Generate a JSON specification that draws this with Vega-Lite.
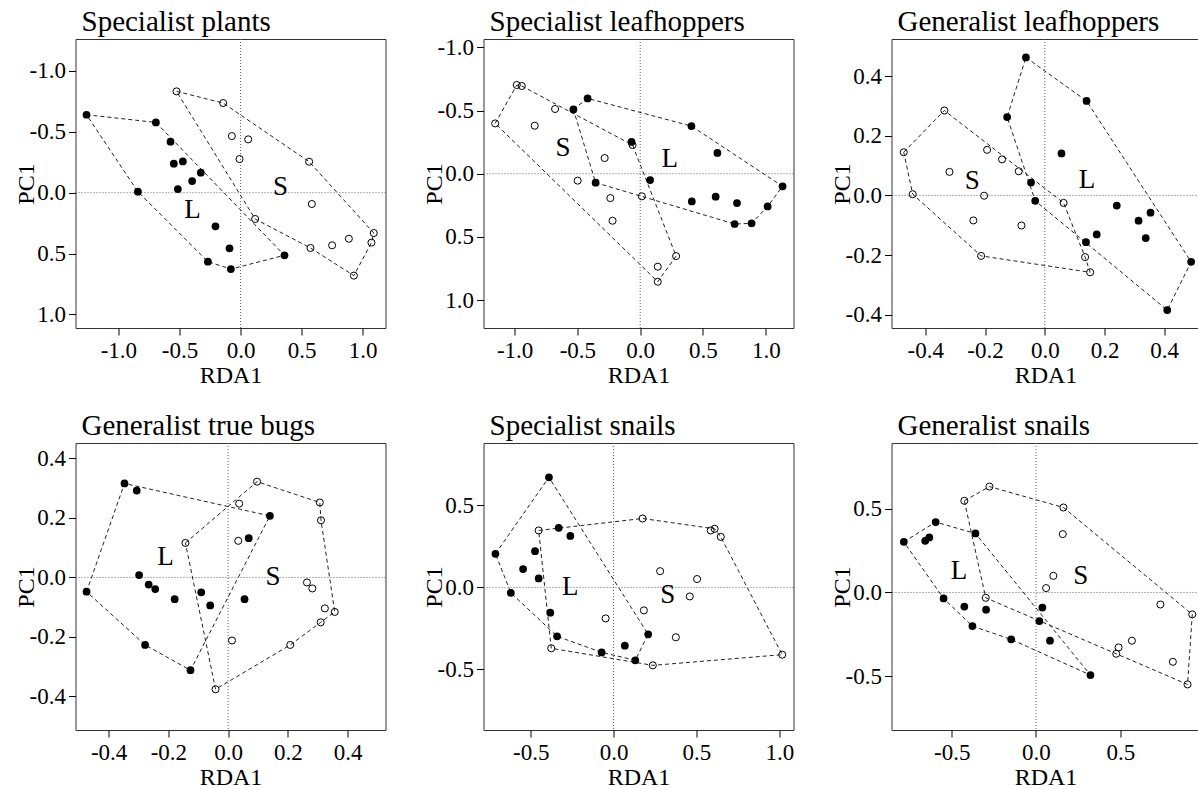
{
  "$schema": "https://vega.github.io/schema/vega-lite/v6.json",
  "padding": {"left": 13.5, "top": 7, "right": 0, "bottom": 0},
  "background": "white",
  "bounds": "flush",
  "columns": 3,
  "spacing": {"row": 115, "column": 98},
  "datasets": {
    "pts": [
      {"panel": 1, "site": "L", "RDA1": -1.261, "PC1": -0.640},
      {"panel": 1, "site": "L", "RDA1": -0.693, "PC1": -0.577},
      {"panel": 1, "site": "L", "RDA1": -0.573, "PC1": -0.419},
      {"panel": 1, "site": "L", "RDA1": -0.546, "PC1": -0.238},
      {"panel": 1, "site": "L", "RDA1": -0.472, "PC1": -0.257},
      {"panel": 1, "site": "L", "RDA1": -0.325, "PC1": -0.164},
      {"panel": 1, "site": "L", "RDA1": -0.396, "PC1": -0.096},
      {"panel": 1, "site": "L", "RDA1": -0.513, "PC1": -0.030},
      {"panel": 1, "site": "L", "RDA1": -0.840, "PC1": -0.008},
      {"panel": 1, "site": "L", "RDA1": -0.205, "PC1": 0.276},
      {"panel": 1, "site": "L", "RDA1": -0.090, "PC1": 0.457},
      {"panel": 1, "site": "L", "RDA1": -0.267, "PC1": 0.566},
      {"panel": 1, "site": "L", "RDA1": -0.079, "PC1": 0.627},
      {"panel": 1, "site": "L", "RDA1": 0.360, "PC1": 0.514},
      {"panel": 1, "site": "S", "RDA1": -0.524, "PC1": -0.832},
      {"panel": 1, "site": "S", "RDA1": -0.142, "PC1": -0.736},
      {"panel": 1, "site": "S", "RDA1": -0.071, "PC1": -0.465},
      {"panel": 1, "site": "S", "RDA1": 0.063, "PC1": -0.438},
      {"panel": 1, "site": "S", "RDA1": -0.008, "PC1": -0.276},
      {"panel": 1, "site": "S", "RDA1": 0.562, "PC1": -0.254},
      {"panel": 1, "site": "S", "RDA1": 0.584, "PC1": 0.093},
      {"panel": 1, "site": "S", "RDA1": 0.120, "PC1": 0.216},
      {"panel": 1, "site": "S", "RDA1": 0.573, "PC1": 0.454},
      {"panel": 1, "site": "S", "RDA1": 0.750, "PC1": 0.432},
      {"panel": 1, "site": "S", "RDA1": 0.887, "PC1": 0.378},
      {"panel": 1, "site": "S", "RDA1": 1.091, "PC1": 0.331},
      {"panel": 1, "site": "S", "RDA1": 1.072, "PC1": 0.410},
      {"panel": 1, "site": "S", "RDA1": 0.928, "PC1": 0.681},

      {"panel": 2, "site": "L", "RDA1": -0.419, "PC1": -0.596},
      {"panel": 2, "site": "L", "RDA1": -0.532, "PC1": -0.509},
      {"panel": 2, "site": "L", "RDA1": 0.408, "PC1": -0.377},
      {"panel": 2, "site": "L", "RDA1": 0.615, "PC1": -0.164},
      {"panel": 2, "site": "L", "RDA1": -0.069, "PC1": -0.251},
      {"panel": 2, "site": "L", "RDA1": 0.079, "PC1": 0.050},
      {"panel": 2, "site": "L", "RDA1": -0.355, "PC1": 0.071},
      {"panel": 2, "site": "L", "RDA1": 0.411, "PC1": 0.219},
      {"panel": 2, "site": "L", "RDA1": 0.601, "PC1": 0.182},
      {"panel": 2, "site": "L", "RDA1": 0.771, "PC1": 0.232},
      {"panel": 2, "site": "L", "RDA1": 1.134, "PC1": 0.100},
      {"panel": 2, "site": "L", "RDA1": 1.015, "PC1": 0.259},
      {"panel": 2, "site": "L", "RDA1": 0.887, "PC1": 0.393},
      {"panel": 2, "site": "L", "RDA1": 0.752, "PC1": 0.398},
      {"panel": 2, "site": "S", "RDA1": -0.983, "PC1": -0.702},
      {"panel": 2, "site": "S", "RDA1": -0.943, "PC1": -0.694},
      {"panel": 2, "site": "S", "RDA1": -0.678, "PC1": -0.512},
      {"panel": 2, "site": "S", "RDA1": -1.155, "PC1": -0.398},
      {"panel": 2, "site": "S", "RDA1": -0.840, "PC1": -0.380},
      {"panel": 2, "site": "S", "RDA1": -0.061, "PC1": -0.227},
      {"panel": 2, "site": "S", "RDA1": -0.283, "PC1": -0.124},
      {"panel": 2, "site": "S", "RDA1": -0.498, "PC1": 0.055},
      {"panel": 2, "site": "S", "RDA1": 0.013, "PC1": 0.179},
      {"panel": 2, "site": "S", "RDA1": -0.238, "PC1": 0.193},
      {"panel": 2, "site": "S", "RDA1": -0.220, "PC1": 0.372},
      {"panel": 2, "site": "S", "RDA1": 0.286, "PC1": 0.652},
      {"panel": 2, "site": "S", "RDA1": 0.140, "PC1": 0.736},
      {"panel": 2, "site": "S", "RDA1": 0.140, "PC1": 0.855},

      {"panel": 3, "site": "L", "RDA1": -0.063, "PC1": 0.463},
      {"panel": 3, "site": "L", "RDA1": 0.140, "PC1": 0.317},
      {"panel": 3, "site": "L", "RDA1": -0.126, "PC1": 0.263},
      {"panel": 3, "site": "L", "RDA1": 0.056, "PC1": 0.141},
      {"panel": 3, "site": "L", "RDA1": -0.046, "PC1": 0.043},
      {"panel": 3, "site": "L", "RDA1": -0.032, "PC1": -0.018},
      {"panel": 3, "site": "L", "RDA1": 0.241, "PC1": -0.034},
      {"panel": 3, "site": "L", "RDA1": 0.354, "PC1": -0.058},
      {"panel": 3, "site": "L", "RDA1": 0.314, "PC1": -0.085},
      {"panel": 3, "site": "L", "RDA1": 0.174, "PC1": -0.131},
      {"panel": 3, "site": "L", "RDA1": 0.138, "PC1": -0.157},
      {"panel": 3, "site": "L", "RDA1": 0.338, "PC1": -0.143},
      {"panel": 3, "site": "L", "RDA1": 0.490, "PC1": -0.223},
      {"panel": 3, "site": "L", "RDA1": 0.410, "PC1": -0.385},
      {"panel": 3, "site": "S", "RDA1": -0.336, "PC1": 0.285},
      {"panel": 3, "site": "S", "RDA1": -0.472, "PC1": 0.145},
      {"panel": 3, "site": "S", "RDA1": -0.193, "PC1": 0.153},
      {"panel": 3, "site": "S", "RDA1": -0.143, "PC1": 0.121},
      {"panel": 3, "site": "S", "RDA1": -0.319, "PC1": 0.079},
      {"panel": 3, "site": "S", "RDA1": -0.087, "PC1": 0.081},
      {"panel": 3, "site": "S", "RDA1": -0.442, "PC1": 0.004},
      {"panel": 3, "site": "S", "RDA1": -0.203, "PC1": -0.001},
      {"panel": 3, "site": "S", "RDA1": 0.063, "PC1": -0.025},
      {"panel": 3, "site": "S", "RDA1": -0.239, "PC1": -0.084},
      {"panel": 3, "site": "S", "RDA1": -0.078, "PC1": -0.101},
      {"panel": 3, "site": "S", "RDA1": -0.213, "PC1": -0.203},
      {"panel": 3, "site": "S", "RDA1": 0.135, "PC1": -0.207},
      {"panel": 3, "site": "S", "RDA1": 0.152, "PC1": -0.258},

      {"panel": 4, "site": "L", "RDA1": -0.347, "PC1": 0.316},
      {"panel": 4, "site": "L", "RDA1": -0.306, "PC1": 0.292},
      {"panel": 4, "site": "L", "RDA1": 0.140, "PC1": 0.207},
      {"panel": 4, "site": "L", "RDA1": 0.069, "PC1": 0.132},
      {"panel": 4, "site": "L", "RDA1": -0.298, "PC1": 0.008},
      {"panel": 4, "site": "L", "RDA1": -0.266, "PC1": -0.024},
      {"panel": 4, "site": "L", "RDA1": -0.244, "PC1": -0.039},
      {"panel": 4, "site": "L", "RDA1": -0.179, "PC1": -0.073},
      {"panel": 4, "site": "L", "RDA1": -0.090, "PC1": -0.050},
      {"panel": 4, "site": "L", "RDA1": -0.060, "PC1": -0.094},
      {"panel": 4, "site": "L", "RDA1": 0.055, "PC1": -0.073},
      {"panel": 4, "site": "L", "RDA1": -0.474, "PC1": -0.048},
      {"panel": 4, "site": "L", "RDA1": -0.278, "PC1": -0.227},
      {"panel": 4, "site": "L", "RDA1": -0.126, "PC1": -0.312},
      {"panel": 4, "site": "S", "RDA1": 0.097, "PC1": 0.322},
      {"panel": 4, "site": "S", "RDA1": 0.037, "PC1": 0.248},
      {"panel": 4, "site": "S", "RDA1": 0.307, "PC1": 0.252},
      {"panel": 4, "site": "S", "RDA1": 0.311, "PC1": 0.192},
      {"panel": 4, "site": "S", "RDA1": -0.143, "PC1": 0.116},
      {"panel": 4, "site": "S", "RDA1": 0.034, "PC1": 0.123},
      {"panel": 4, "site": "S", "RDA1": 0.264, "PC1": -0.017},
      {"panel": 4, "site": "S", "RDA1": 0.282, "PC1": -0.037},
      {"panel": 4, "site": "S", "RDA1": 0.324, "PC1": -0.104},
      {"panel": 4, "site": "S", "RDA1": 0.357, "PC1": -0.116},
      {"panel": 4, "site": "S", "RDA1": 0.310, "PC1": -0.151},
      {"panel": 4, "site": "S", "RDA1": 0.208, "PC1": -0.227},
      {"panel": 4, "site": "S", "RDA1": 0.013, "PC1": -0.212},
      {"panel": 4, "site": "S", "RDA1": -0.042, "PC1": -0.376},

      {"panel": 5, "site": "L", "RDA1": -0.390, "PC1": 0.671},
      {"panel": 5, "site": "L", "RDA1": -0.331, "PC1": 0.363},
      {"panel": 5, "site": "L", "RDA1": -0.261, "PC1": 0.314},
      {"panel": 5, "site": "L", "RDA1": -0.713, "PC1": 0.205},
      {"panel": 5, "site": "L", "RDA1": -0.474, "PC1": 0.221},
      {"panel": 5, "site": "L", "RDA1": -0.546, "PC1": 0.112},
      {"panel": 5, "site": "L", "RDA1": -0.452, "PC1": 0.055},
      {"panel": 5, "site": "L", "RDA1": -0.620, "PC1": -0.033},
      {"panel": 5, "site": "L", "RDA1": -0.382, "PC1": -0.154},
      {"panel": 5, "site": "L", "RDA1": -0.341, "PC1": -0.298},
      {"panel": 5, "site": "L", "RDA1": -0.072, "PC1": -0.396},
      {"panel": 5, "site": "L", "RDA1": 0.068, "PC1": -0.355},
      {"panel": 5, "site": "L", "RDA1": 0.209, "PC1": -0.286},
      {"panel": 5, "site": "L", "RDA1": 0.131, "PC1": -0.444},
      {"panel": 5, "site": "S", "RDA1": -0.452, "PC1": 0.347},
      {"panel": 5, "site": "S", "RDA1": 0.175, "PC1": 0.420},
      {"panel": 5, "site": "S", "RDA1": 0.586, "PC1": 0.347},
      {"panel": 5, "site": "S", "RDA1": 0.610, "PC1": 0.357},
      {"panel": 5, "site": "S", "RDA1": 0.647, "PC1": 0.308},
      {"panel": 5, "site": "S", "RDA1": 0.281, "PC1": 0.099},
      {"panel": 5, "site": "S", "RDA1": 0.504, "PC1": 0.051},
      {"panel": 5, "site": "S", "RDA1": 0.460, "PC1": -0.055},
      {"panel": 5, "site": "S", "RDA1": 0.183, "PC1": -0.140},
      {"panel": 5, "site": "S", "RDA1": -0.048, "PC1": -0.189},
      {"panel": 5, "site": "S", "RDA1": 0.376, "PC1": -0.304},
      {"panel": 5, "site": "S", "RDA1": -0.376, "PC1": -0.371},
      {"panel": 5, "site": "S", "RDA1": 0.237, "PC1": -0.475},
      {"panel": 5, "site": "S", "RDA1": 1.018, "PC1": -0.410},

      {"panel": 6, "site": "L", "RDA1": -0.784, "PC1": 0.302},
      {"panel": 6, "site": "L", "RDA1": -0.657, "PC1": 0.308},
      {"panel": 6, "site": "L", "RDA1": -0.633, "PC1": 0.328},
      {"panel": 6, "site": "L", "RDA1": -0.595, "PC1": 0.420},
      {"panel": 6, "site": "L", "RDA1": -0.359, "PC1": 0.352},
      {"panel": 6, "site": "L", "RDA1": -0.548, "PC1": -0.036},
      {"panel": 6, "site": "L", "RDA1": -0.425, "PC1": -0.084},
      {"panel": 6, "site": "L", "RDA1": -0.296, "PC1": -0.103},
      {"panel": 6, "site": "L", "RDA1": 0.038, "PC1": -0.090},
      {"panel": 6, "site": "L", "RDA1": 0.020, "PC1": -0.171},
      {"panel": 6, "site": "L", "RDA1": -0.377, "PC1": -0.201},
      {"panel": 6, "site": "L", "RDA1": -0.147, "PC1": -0.280},
      {"panel": 6, "site": "L", "RDA1": 0.083, "PC1": -0.288},
      {"panel": 6, "site": "L", "RDA1": 0.323, "PC1": -0.493},
      {"panel": 6, "site": "S", "RDA1": -0.276, "PC1": 0.632},
      {"panel": 6, "site": "S", "RDA1": -0.425, "PC1": 0.547},
      {"panel": 6, "site": "S", "RDA1": 0.163, "PC1": 0.507},
      {"panel": 6, "site": "S", "RDA1": 0.159, "PC1": 0.348},
      {"panel": 6, "site": "S", "RDA1": 0.103, "PC1": 0.099},
      {"panel": 6, "site": "S", "RDA1": 0.060, "PC1": 0.026},
      {"panel": 6, "site": "S", "RDA1": -0.298, "PC1": -0.032},
      {"panel": 6, "site": "S", "RDA1": 0.738, "PC1": -0.072},
      {"panel": 6, "site": "S", "RDA1": 0.927, "PC1": -0.131},
      {"panel": 6, "site": "S", "RDA1": 0.569, "PC1": -0.288},
      {"panel": 6, "site": "S", "RDA1": 0.490, "PC1": -0.328},
      {"panel": 6, "site": "S", "RDA1": 0.476, "PC1": -0.366},
      {"panel": 6, "site": "S", "RDA1": 0.812, "PC1": -0.414},
      {"panel": 6, "site": "S", "RDA1": 0.899, "PC1": -0.549}
    ],
    "hull": [
      {"panel": 1, "site": "L", "vertex": 1, "RDA1": -1.261, "PC1": -0.640},
      {"panel": 1, "site": "L", "vertex": 2, "RDA1": -0.693, "PC1": -0.577},
      {"panel": 1, "site": "L", "vertex": 3, "RDA1": 0.360, "PC1": 0.514},
      {"panel": 1, "site": "L", "vertex": 4, "RDA1": -0.079, "PC1": 0.627},
      {"panel": 1, "site": "L", "vertex": 5, "RDA1": -0.267, "PC1": 0.566},
      {"panel": 1, "site": "L", "vertex": 6, "RDA1": -0.840, "PC1": -0.008},
      {"panel": 1, "site": "L", "vertex": 7, "RDA1": -1.261, "PC1": -0.640},
      {"panel": 1, "site": "S", "vertex": 1, "RDA1": -0.524, "PC1": -0.832},
      {"panel": 1, "site": "S", "vertex": 2, "RDA1": -0.142, "PC1": -0.736},
      {"panel": 1, "site": "S", "vertex": 3, "RDA1": 0.562, "PC1": -0.254},
      {"panel": 1, "site": "S", "vertex": 4, "RDA1": 1.091, "PC1": 0.331},
      {"panel": 1, "site": "S", "vertex": 5, "RDA1": 1.072, "PC1": 0.410},
      {"panel": 1, "site": "S", "vertex": 6, "RDA1": 0.928, "PC1": 0.681},
      {"panel": 1, "site": "S", "vertex": 7, "RDA1": 0.573, "PC1": 0.454},
      {"panel": 1, "site": "S", "vertex": 8, "RDA1": 0.120, "PC1": 0.216},
      {"panel": 1, "site": "S", "vertex": 9, "RDA1": -0.524, "PC1": -0.832},

      {"panel": 2, "site": "L", "vertex": 1, "RDA1": -0.532, "PC1": -0.509},
      {"panel": 2, "site": "L", "vertex": 2, "RDA1": -0.419, "PC1": -0.596},
      {"panel": 2, "site": "L", "vertex": 3, "RDA1": 0.408, "PC1": -0.377},
      {"panel": 2, "site": "L", "vertex": 4, "RDA1": 1.134, "PC1": 0.100},
      {"panel": 2, "site": "L", "vertex": 5, "RDA1": 1.015, "PC1": 0.259},
      {"panel": 2, "site": "L", "vertex": 6, "RDA1": 0.887, "PC1": 0.393},
      {"panel": 2, "site": "L", "vertex": 7, "RDA1": 0.752, "PC1": 0.398},
      {"panel": 2, "site": "L", "vertex": 8, "RDA1": -0.355, "PC1": 0.071},
      {"panel": 2, "site": "L", "vertex": 9, "RDA1": -0.532, "PC1": -0.509},
      {"panel": 2, "site": "S", "vertex": 1, "RDA1": -1.155, "PC1": -0.398},
      {"panel": 2, "site": "S", "vertex": 2, "RDA1": -0.983, "PC1": -0.702},
      {"panel": 2, "site": "S", "vertex": 3, "RDA1": -0.943, "PC1": -0.694},
      {"panel": 2, "site": "S", "vertex": 4, "RDA1": -0.061, "PC1": -0.227},
      {"panel": 2, "site": "S", "vertex": 5, "RDA1": 0.286, "PC1": 0.652},
      {"panel": 2, "site": "S", "vertex": 6, "RDA1": 0.140, "PC1": 0.855},
      {"panel": 2, "site": "S", "vertex": 7, "RDA1": -1.155, "PC1": -0.398},

      {"panel": 3, "site": "L", "vertex": 1, "RDA1": -0.063, "PC1": 0.463},
      {"panel": 3, "site": "L", "vertex": 2, "RDA1": 0.140, "PC1": 0.317},
      {"panel": 3, "site": "L", "vertex": 3, "RDA1": 0.490, "PC1": -0.223},
      {"panel": 3, "site": "L", "vertex": 4, "RDA1": 0.410, "PC1": -0.385},
      {"panel": 3, "site": "L", "vertex": 5, "RDA1": -0.032, "PC1": -0.018},
      {"panel": 3, "site": "L", "vertex": 6, "RDA1": -0.126, "PC1": 0.263},
      {"panel": 3, "site": "L", "vertex": 7, "RDA1": -0.063, "PC1": 0.463},
      {"panel": 3, "site": "S", "vertex": 1, "RDA1": -0.472, "PC1": 0.145},
      {"panel": 3, "site": "S", "vertex": 2, "RDA1": -0.336, "PC1": 0.285},
      {"panel": 3, "site": "S", "vertex": 3, "RDA1": 0.063, "PC1": -0.025},
      {"panel": 3, "site": "S", "vertex": 4, "RDA1": 0.135, "PC1": -0.207},
      {"panel": 3, "site": "S", "vertex": 5, "RDA1": 0.152, "PC1": -0.258},
      {"panel": 3, "site": "S", "vertex": 6, "RDA1": -0.213, "PC1": -0.203},
      {"panel": 3, "site": "S", "vertex": 7, "RDA1": -0.442, "PC1": 0.004},
      {"panel": 3, "site": "S", "vertex": 8, "RDA1": -0.472, "PC1": 0.145},

      {"panel": 4, "site": "L", "vertex": 1, "RDA1": -0.474, "PC1": -0.048},
      {"panel": 4, "site": "L", "vertex": 2, "RDA1": -0.347, "PC1": 0.316},
      {"panel": 4, "site": "L", "vertex": 3, "RDA1": 0.140, "PC1": 0.207},
      {"panel": 4, "site": "L", "vertex": 4, "RDA1": -0.126, "PC1": -0.312},
      {"panel": 4, "site": "L", "vertex": 5, "RDA1": -0.278, "PC1": -0.227},
      {"panel": 4, "site": "L", "vertex": 6, "RDA1": -0.474, "PC1": -0.048},
      {"panel": 4, "site": "S", "vertex": 1, "RDA1": -0.143, "PC1": 0.116},
      {"panel": 4, "site": "S", "vertex": 2, "RDA1": 0.097, "PC1": 0.322},
      {"panel": 4, "site": "S", "vertex": 3, "RDA1": 0.307, "PC1": 0.252},
      {"panel": 4, "site": "S", "vertex": 4, "RDA1": 0.311, "PC1": 0.192},
      {"panel": 4, "site": "S", "vertex": 5, "RDA1": 0.357, "PC1": -0.116},
      {"panel": 4, "site": "S", "vertex": 6, "RDA1": 0.310, "PC1": -0.151},
      {"panel": 4, "site": "S", "vertex": 7, "RDA1": 0.208, "PC1": -0.227},
      {"panel": 4, "site": "S", "vertex": 8, "RDA1": -0.042, "PC1": -0.376},
      {"panel": 4, "site": "S", "vertex": 9, "RDA1": -0.143, "PC1": 0.116},

      {"panel": 5, "site": "L", "vertex": 1, "RDA1": -0.713, "PC1": 0.205},
      {"panel": 5, "site": "L", "vertex": 2, "RDA1": -0.390, "PC1": 0.671},
      {"panel": 5, "site": "L", "vertex": 3, "RDA1": 0.209, "PC1": -0.286},
      {"panel": 5, "site": "L", "vertex": 4, "RDA1": 0.131, "PC1": -0.444},
      {"panel": 5, "site": "L", "vertex": 5, "RDA1": -0.072, "PC1": -0.396},
      {"panel": 5, "site": "L", "vertex": 6, "RDA1": -0.341, "PC1": -0.298},
      {"panel": 5, "site": "L", "vertex": 7, "RDA1": -0.620, "PC1": -0.033},
      {"panel": 5, "site": "L", "vertex": 8, "RDA1": -0.713, "PC1": 0.205},
      {"panel": 5, "site": "S", "vertex": 1, "RDA1": -0.452, "PC1": 0.347},
      {"panel": 5, "site": "S", "vertex": 2, "RDA1": 0.175, "PC1": 0.420},
      {"panel": 5, "site": "S", "vertex": 3, "RDA1": 0.610, "PC1": 0.357},
      {"panel": 5, "site": "S", "vertex": 4, "RDA1": 0.647, "PC1": 0.308},
      {"panel": 5, "site": "S", "vertex": 5, "RDA1": 1.018, "PC1": -0.410},
      {"panel": 5, "site": "S", "vertex": 6, "RDA1": 0.237, "PC1": -0.475},
      {"panel": 5, "site": "S", "vertex": 7, "RDA1": -0.376, "PC1": -0.371},
      {"panel": 5, "site": "S", "vertex": 8, "RDA1": -0.452, "PC1": 0.347},

      {"panel": 6, "site": "L", "vertex": 1, "RDA1": -0.784, "PC1": 0.302},
      {"panel": 6, "site": "L", "vertex": 2, "RDA1": -0.595, "PC1": 0.420},
      {"panel": 6, "site": "L", "vertex": 3, "RDA1": -0.359, "PC1": 0.352},
      {"panel": 6, "site": "L", "vertex": 4, "RDA1": 0.323, "PC1": -0.493},
      {"panel": 6, "site": "L", "vertex": 5, "RDA1": -0.147, "PC1": -0.280},
      {"panel": 6, "site": "L", "vertex": 6, "RDA1": -0.377, "PC1": -0.201},
      {"panel": 6, "site": "L", "vertex": 7, "RDA1": -0.548, "PC1": -0.036},
      {"panel": 6, "site": "L", "vertex": 8, "RDA1": -0.784, "PC1": 0.302},
      {"panel": 6, "site": "S", "vertex": 1, "RDA1": -0.425, "PC1": 0.547},
      {"panel": 6, "site": "S", "vertex": 2, "RDA1": -0.276, "PC1": 0.632},
      {"panel": 6, "site": "S", "vertex": 3, "RDA1": 0.163, "PC1": 0.507},
      {"panel": 6, "site": "S", "vertex": 4, "RDA1": 0.927, "PC1": -0.131},
      {"panel": 6, "site": "S", "vertex": 5, "RDA1": 0.899, "PC1": -0.549},
      {"panel": 6, "site": "S", "vertex": 6, "RDA1": 0.476, "PC1": -0.366},
      {"panel": 6, "site": "S", "vertex": 7, "RDA1": -0.298, "PC1": -0.032},
      {"panel": 6, "site": "S", "vertex": 8, "RDA1": -0.425, "PC1": 0.547}
    ],
    "labels": [
      {"panel": 1, "site": "S", "RDA1": 0.327, "PC1": -0.047},
      {"panel": 1, "site": "L", "RDA1": -0.393, "PC1": 0.142},
      {"panel": 2, "site": "S", "RDA1": -0.615, "PC1": -0.203},
      {"panel": 2, "site": "L", "RDA1": 0.236, "PC1": -0.116},
      {"panel": 3, "site": "S", "RDA1": -0.243, "PC1": 0.049},
      {"panel": 3, "site": "L", "RDA1": 0.141, "PC1": 0.051},
      {"panel": 4, "site": "L", "RDA1": -0.210, "PC1": 0.069},
      {"panel": 4, "site": "S", "RDA1": 0.150, "PC1": 0.000},
      {"panel": 5, "site": "L", "RDA1": -0.261, "PC1": 0.000},
      {"panel": 5, "site": "S", "RDA1": 0.327, "PC1": -0.047},
      {"panel": 6, "site": "L", "RDA1": -0.456, "PC1": 0.129},
      {"panel": 6, "site": "S", "RDA1": 0.266, "PC1": 0.099}
    ],
    "origin": [{"zero": 0}]
  },
  "concat": [
    {
      "title": {"text": "Specialist plants", "offset": 2},
      "width": 310, "height": 289,
      "layer": [
        {"data": {"name": "origin"}, "mark": {"type": "rule", "color": "#666", "strokeDash": [1, 2], "strokeWidth": 1},
         "encoding": {"x": {"field": "zero", "type": "quantitative", "scale": {"domain": [-1.351, 1.187], "nice": false, "zero": false}, "axis": {"values": [-1, -0.5, 0, 0.5, 1], "format": ".1f", "title": "RDA1", "labelFont": "Liberation Serif", "titleFont": "Liberation Serif"}}}},
        {"data": {"name": "origin"}, "mark": {"type": "rule", "color": "#666", "strokeDash": [1, 2], "strokeWidth": 1},
         "encoding": {"y": {"field": "zero", "type": "quantitative", "scale": {"domain": [-1.262, 1.111], "nice": false, "zero": false, "reverse": true}, "axis": {"values": [-1, -0.5, 0, 0.5, 1], "format": ".1f", "title": "PC1", "labelFont": "Liberation Serif", "titleFont": "Liberation Serif"}}}},
        {"data": {"name": "hull"}, "transform": [{"filter": "datum.panel == 1"}], "mark": {"type": "line", "color": "#222", "strokeDash": [4, 3], "strokeWidth": 1},
         "encoding": {"x": {"field": "RDA1", "type": "quantitative"}, "y": {"field": "PC1", "type": "quantitative"}, "detail": {"field": "site"}, "order": {"field": "vertex"}}},
        {"data": {"name": "pts"}, "transform": [{"filter": "datum.panel == 1 && datum.site == 'L'"}], "mark": {"type": "circle", "size": 60, "color": "#000", "opacity": 1},
         "encoding": {"x": {"field": "RDA1", "type": "quantitative"}, "y": {"field": "PC1", "type": "quantitative"}}},
        {"data": {"name": "pts"}, "transform": [{"filter": "datum.panel == 1 && datum.site == 'S'"}], "mark": {"type": "point", "shape": "circle", "size": 50, "filled": false, "stroke": "#000", "strokeWidth": 1, "opacity": 1},
         "encoding": {"x": {"field": "RDA1", "type": "quantitative"}, "y": {"field": "PC1", "type": "quantitative"}}},
        {"data": {"name": "labels"}, "transform": [{"filter": "datum.panel == 1"}], "mark": {"type": "text", "font": "Liberation Serif", "fontSize": 27, "align": "center", "baseline": "middle", "color": "#000"},
         "encoding": {"x": {"field": "RDA1", "type": "quantitative"}, "y": {"field": "PC1", "type": "quantitative"}, "text": {"field": "site"}}}
      ]
    },
    {
      "title": {"text": "Specialist leafhoppers", "offset": -1},
      "width": 310, "height": 289,
      "layer": [
        {"data": {"name": "origin"}, "mark": {"type": "rule", "color": "#666", "strokeDash": [1, 2], "strokeWidth": 1},
         "encoding": {"x": {"field": "zero", "type": "quantitative", "scale": {"domain": [-1.248, 1.221], "nice": false, "zero": false}, "axis": {"values": [-1, -0.5, 0, 0.5, 1], "format": ".1f", "title": "RDA1", "labelFont": "Liberation Serif", "titleFont": "Liberation Serif"}}}},
        {"data": {"name": "origin"}, "mark": {"type": "rule", "color": "#666", "strokeDash": [1, 2], "strokeWidth": 1},
         "encoding": {"y": {"field": "zero", "type": "quantitative", "scale": {"domain": [-1.066, 1.221], "nice": false, "zero": false, "reverse": true}, "axis": {"values": [-1, -0.5, 0, 0.5, 1], "format": ".1f", "title": "PC1", "labelFont": "Liberation Serif", "titleFont": "Liberation Serif"}}}},
        {"data": {"name": "hull"}, "transform": [{"filter": "datum.panel == 2"}], "mark": {"type": "line", "color": "#222", "strokeDash": [4, 3], "strokeWidth": 1},
         "encoding": {"x": {"field": "RDA1", "type": "quantitative"}, "y": {"field": "PC1", "type": "quantitative"}, "detail": {"field": "site"}, "order": {"field": "vertex"}}},
        {"data": {"name": "pts"}, "transform": [{"filter": "datum.panel == 2 && datum.site == 'L'"}], "mark": {"type": "circle", "size": 60, "color": "#000", "opacity": 1},
         "encoding": {"x": {"field": "RDA1", "type": "quantitative"}, "y": {"field": "PC1", "type": "quantitative"}}},
        {"data": {"name": "pts"}, "transform": [{"filter": "datum.panel == 2 && datum.site == 'S'"}], "mark": {"type": "point", "shape": "circle", "size": 50, "filled": false, "stroke": "#000", "strokeWidth": 1, "opacity": 1},
         "encoding": {"x": {"field": "RDA1", "type": "quantitative"}, "y": {"field": "PC1", "type": "quantitative"}}},
        {"data": {"name": "labels"}, "transform": [{"filter": "datum.panel == 2"}], "mark": {"type": "text", "font": "Liberation Serif", "fontSize": 27, "align": "center", "baseline": "middle", "color": "#000"},
         "encoding": {"x": {"field": "RDA1", "type": "quantitative"}, "y": {"field": "PC1", "type": "quantitative"}, "text": {"field": "site"}}}
      ]
    },
    {
      "title": {"text": "Generalist leafhoppers", "offset": 2},
      "width": 308, "height": 289,
      "layer": [
        {"data": {"name": "origin"}, "mark": {"type": "rule", "color": "#666", "strokeDash": [1, 2], "strokeWidth": 1},
         "encoding": {"x": {"field": "zero", "type": "quantitative", "scale": {"domain": [-0.513, 0.518], "nice": false, "zero": false}, "axis": {"values": [-0.4, -0.2, 0, 0.2, 0.4], "format": ".1f", "title": "RDA1", "labelFont": "Liberation Serif", "titleFont": "Liberation Serif"}}}},
        {"data": {"name": "origin"}, "mark": {"type": "rule", "color": "#666", "strokeDash": [1, 2], "strokeWidth": 1},
         "encoding": {"y": {"field": "zero", "type": "quantitative", "scale": {"domain": [-0.445, 0.525], "nice": false, "zero": false}, "axis": {"values": [-0.4, -0.2, 0, 0.2, 0.4], "format": ".1f", "title": "PC1", "labelFont": "Liberation Serif", "titleFont": "Liberation Serif"}}}},
        {"data": {"name": "hull"}, "transform": [{"filter": "datum.panel == 3"}], "mark": {"type": "line", "color": "#222", "strokeDash": [4, 3], "strokeWidth": 1},
         "encoding": {"x": {"field": "RDA1", "type": "quantitative"}, "y": {"field": "PC1", "type": "quantitative"}, "detail": {"field": "site"}, "order": {"field": "vertex"}}},
        {"data": {"name": "pts"}, "transform": [{"filter": "datum.panel == 3 && datum.site == 'L'"}], "mark": {"type": "circle", "size": 60, "color": "#000", "opacity": 1},
         "encoding": {"x": {"field": "RDA1", "type": "quantitative"}, "y": {"field": "PC1", "type": "quantitative"}}},
        {"data": {"name": "pts"}, "transform": [{"filter": "datum.panel == 3 && datum.site == 'S'"}], "mark": {"type": "point", "shape": "circle", "size": 50, "filled": false, "stroke": "#000", "strokeWidth": 1, "opacity": 1},
         "encoding": {"x": {"field": "RDA1", "type": "quantitative"}, "y": {"field": "PC1", "type": "quantitative"}}},
        {"data": {"name": "labels"}, "transform": [{"filter": "datum.panel == 3"}], "mark": {"type": "text", "font": "Liberation Serif", "fontSize": 27, "align": "center", "baseline": "middle", "color": "#000"},
         "encoding": {"x": {"field": "RDA1", "type": "quantitative"}, "y": {"field": "PC1", "type": "quantitative"}, "text": {"field": "site"}}}
      ]
    },
    {
      "title": {"text": "Generalist true bugs", "offset": 2},
      "width": 310, "height": 287,
      "layer": [
        {"data": {"name": "origin"}, "mark": {"type": "rule", "color": "#666", "strokeDash": [1, 2], "strokeWidth": 1},
         "encoding": {"x": {"field": "zero", "type": "quantitative", "scale": {"domain": [-0.511, 0.527], "nice": false, "zero": false}, "axis": {"values": [-0.4, -0.2, 0, 0.2, 0.4], "format": ".1f", "title": "RDA1", "labelFont": "Liberation Serif", "titleFont": "Liberation Serif"}}}},
        {"data": {"name": "origin"}, "mark": {"type": "rule", "color": "#666", "strokeDash": [1, 2], "strokeWidth": 1},
         "encoding": {"y": {"field": "zero", "type": "quantitative", "scale": {"domain": [-0.513, 0.452], "nice": false, "zero": false}, "axis": {"values": [-0.4, -0.2, 0, 0.2, 0.4], "format": ".1f", "title": "PC1", "labelFont": "Liberation Serif", "titleFont": "Liberation Serif"}}}},
        {"data": {"name": "hull"}, "transform": [{"filter": "datum.panel == 4"}], "mark": {"type": "line", "color": "#222", "strokeDash": [4, 3], "strokeWidth": 1},
         "encoding": {"x": {"field": "RDA1", "type": "quantitative"}, "y": {"field": "PC1", "type": "quantitative"}, "detail": {"field": "site"}, "order": {"field": "vertex"}}},
        {"data": {"name": "pts"}, "transform": [{"filter": "datum.panel == 4 && datum.site == 'L'"}], "mark": {"type": "circle", "size": 60, "color": "#000", "opacity": 1},
         "encoding": {"x": {"field": "RDA1", "type": "quantitative"}, "y": {"field": "PC1", "type": "quantitative"}}},
        {"data": {"name": "pts"}, "transform": [{"filter": "datum.panel == 4 && datum.site == 'S'"}], "mark": {"type": "point", "shape": "circle", "size": 50, "filled": false, "stroke": "#000", "strokeWidth": 1, "opacity": 1},
         "encoding": {"x": {"field": "RDA1", "type": "quantitative"}, "y": {"field": "PC1", "type": "quantitative"}}},
        {"data": {"name": "labels"}, "transform": [{"filter": "datum.panel == 4"}], "mark": {"type": "text", "font": "Liberation Serif", "fontSize": 27, "align": "center", "baseline": "middle", "color": "#000"},
         "encoding": {"x": {"field": "RDA1", "type": "quantitative"}, "y": {"field": "PC1", "type": "quantitative"}, "text": {"field": "site"}}}
      ]
    },
    {
      "title": {"text": "Specialist snails", "offset": 2},
      "width": 310, "height": 287,
      "layer": [
        {"data": {"name": "origin"}, "mark": {"type": "rule", "color": "#666", "strokeDash": [1, 2], "strokeWidth": 1},
         "encoding": {"x": {"field": "zero", "type": "quantitative", "scale": {"domain": [-0.785, 1.086], "nice": false, "zero": false}, "axis": {"values": [-0.5, 0, 0.5, 1], "format": ".1f", "title": "RDA1", "labelFont": "Liberation Serif", "titleFont": "Liberation Serif"}}}},
        {"data": {"name": "origin"}, "mark": {"type": "rule", "color": "#666", "strokeDash": [1, 2], "strokeWidth": 1},
         "encoding": {"y": {"field": "zero", "type": "quantitative", "scale": {"domain": [-0.869, 0.88], "nice": false, "zero": false}, "axis": {"values": [-0.5, 0, 0.5], "format": ".1f", "title": "PC1", "labelFont": "Liberation Serif", "titleFont": "Liberation Serif"}}}},
        {"data": {"name": "hull"}, "transform": [{"filter": "datum.panel == 5"}], "mark": {"type": "line", "color": "#222", "strokeDash": [4, 3], "strokeWidth": 1},
         "encoding": {"x": {"field": "RDA1", "type": "quantitative"}, "y": {"field": "PC1", "type": "quantitative"}, "detail": {"field": "site"}, "order": {"field": "vertex"}}},
        {"data": {"name": "pts"}, "transform": [{"filter": "datum.panel == 5 && datum.site == 'L'"}], "mark": {"type": "circle", "size": 60, "color": "#000", "opacity": 1},
         "encoding": {"x": {"field": "RDA1", "type": "quantitative"}, "y": {"field": "PC1", "type": "quantitative"}}},
        {"data": {"name": "pts"}, "transform": [{"filter": "datum.panel == 5 && datum.site == 'S'"}], "mark": {"type": "point", "shape": "circle", "size": 50, "filled": false, "stroke": "#000", "strokeWidth": 1, "opacity": 1},
         "encoding": {"x": {"field": "RDA1", "type": "quantitative"}, "y": {"field": "PC1", "type": "quantitative"}}},
        {"data": {"name": "labels"}, "transform": [{"filter": "datum.panel == 5"}], "mark": {"type": "text", "font": "Liberation Serif", "fontSize": 27, "align": "center", "baseline": "middle", "color": "#000"},
         "encoding": {"x": {"field": "RDA1", "type": "quantitative"}, "y": {"field": "PC1", "type": "quantitative"}, "text": {"field": "site"}}}
      ]
    },
    {
      "title": {"text": "Generalist snails", "offset": 2},
      "width": 308, "height": 287,
      "layer": [
        {"data": {"name": "origin"}, "mark": {"type": "rule", "color": "#666", "strokeDash": [1, 2], "strokeWidth": 1},
         "encoding": {"x": {"field": "zero", "type": "quantitative", "scale": {"domain": [-0.857, 0.97], "nice": false, "zero": false}, "axis": {"values": [-0.5, 0, 0.5], "format": ".1f", "title": "RDA1", "labelFont": "Liberation Serif", "titleFont": "Liberation Serif"}}}},
        {"data": {"name": "origin"}, "mark": {"type": "rule", "color": "#666", "strokeDash": [1, 2], "strokeWidth": 1},
         "encoding": {"y": {"field": "zero", "type": "quantitative", "scale": {"domain": [-0.821, 0.892], "nice": false, "zero": false}, "axis": {"values": [-0.5, 0, 0.5], "format": ".1f", "title": "PC1", "labelFont": "Liberation Serif", "titleFont": "Liberation Serif"}}}},
        {"data": {"name": "hull"}, "transform": [{"filter": "datum.panel == 6"}], "mark": {"type": "line", "color": "#222", "strokeDash": [4, 3], "strokeWidth": 1},
         "encoding": {"x": {"field": "RDA1", "type": "quantitative"}, "y": {"field": "PC1", "type": "quantitative"}, "detail": {"field": "site"}, "order": {"field": "vertex"}}},
        {"data": {"name": "pts"}, "transform": [{"filter": "datum.panel == 6 && datum.site == 'L'"}], "mark": {"type": "circle", "size": 60, "color": "#000", "opacity": 1},
         "encoding": {"x": {"field": "RDA1", "type": "quantitative"}, "y": {"field": "PC1", "type": "quantitative"}}},
        {"data": {"name": "pts"}, "transform": [{"filter": "datum.panel == 6 && datum.site == 'S'"}], "mark": {"type": "point", "shape": "circle", "size": 50, "filled": false, "stroke": "#000", "strokeWidth": 1, "opacity": 1},
         "encoding": {"x": {"field": "RDA1", "type": "quantitative"}, "y": {"field": "PC1", "type": "quantitative"}}},
        {"data": {"name": "labels"}, "transform": [{"filter": "datum.panel == 6"}], "mark": {"type": "text", "font": "Liberation Serif", "fontSize": 27, "align": "center", "baseline": "middle", "color": "#000"},
         "encoding": {"x": {"field": "RDA1", "type": "quantitative"}, "y": {"field": "PC1", "type": "quantitative"}, "text": {"field": "site"}}}
      ]
    }
  ],
  "config": {
    "font": "Liberation Serif",
    "locale": {"number": {"decimal": ".", "thousands": ",", "grouping": [3], "currency": ["$", ""], "minus": "-"}},
    "view": {"stroke": "#333", "strokeWidth": 1},
    "style": {
      "guide-label": {"font": "Liberation Serif", "fontSize": 23, "fill": "#000"},
      "guide-title": {"font": "Liberation Serif", "fontSize": 24, "fontWeight": "normal", "fill": "#000"}
    },
    "axis": {
      "domain": false, "grid": false, "ticks": true,
      "tickColor": "#000", "tickSize": 7, "tickWidth": 1,
      "labelFont": "Liberation Serif", "labelFontSize": 23, "labelColor": "#000",
      "labelOverlap": false, "labelFlush": false,
      "titleFont": "Liberation Serif", "titleFontSize": 24, "titleFontWeight": "normal", "titleColor": "#000"
    },
    "axisX": {"labelBaseline": "alphabetic", "labelPadding": 22, "titleBaseline": "alphabetic", "titleY": 54},
    "axisY": {"labelBaseline": "middle", "labelPadding": 3, "labelAngle": 0, "labelAlign": "right", "titleBaseline": "alphabetic", "titleX": -42},
    "title": {
      "font": "Liberation Serif", "fontSize": 29, "fontWeight": "normal", "color": "#000",
      "anchor": "start", "frame": "group", "offset": 2, "baseline": "alphabetic", "dx": 6
    }
  }
}
